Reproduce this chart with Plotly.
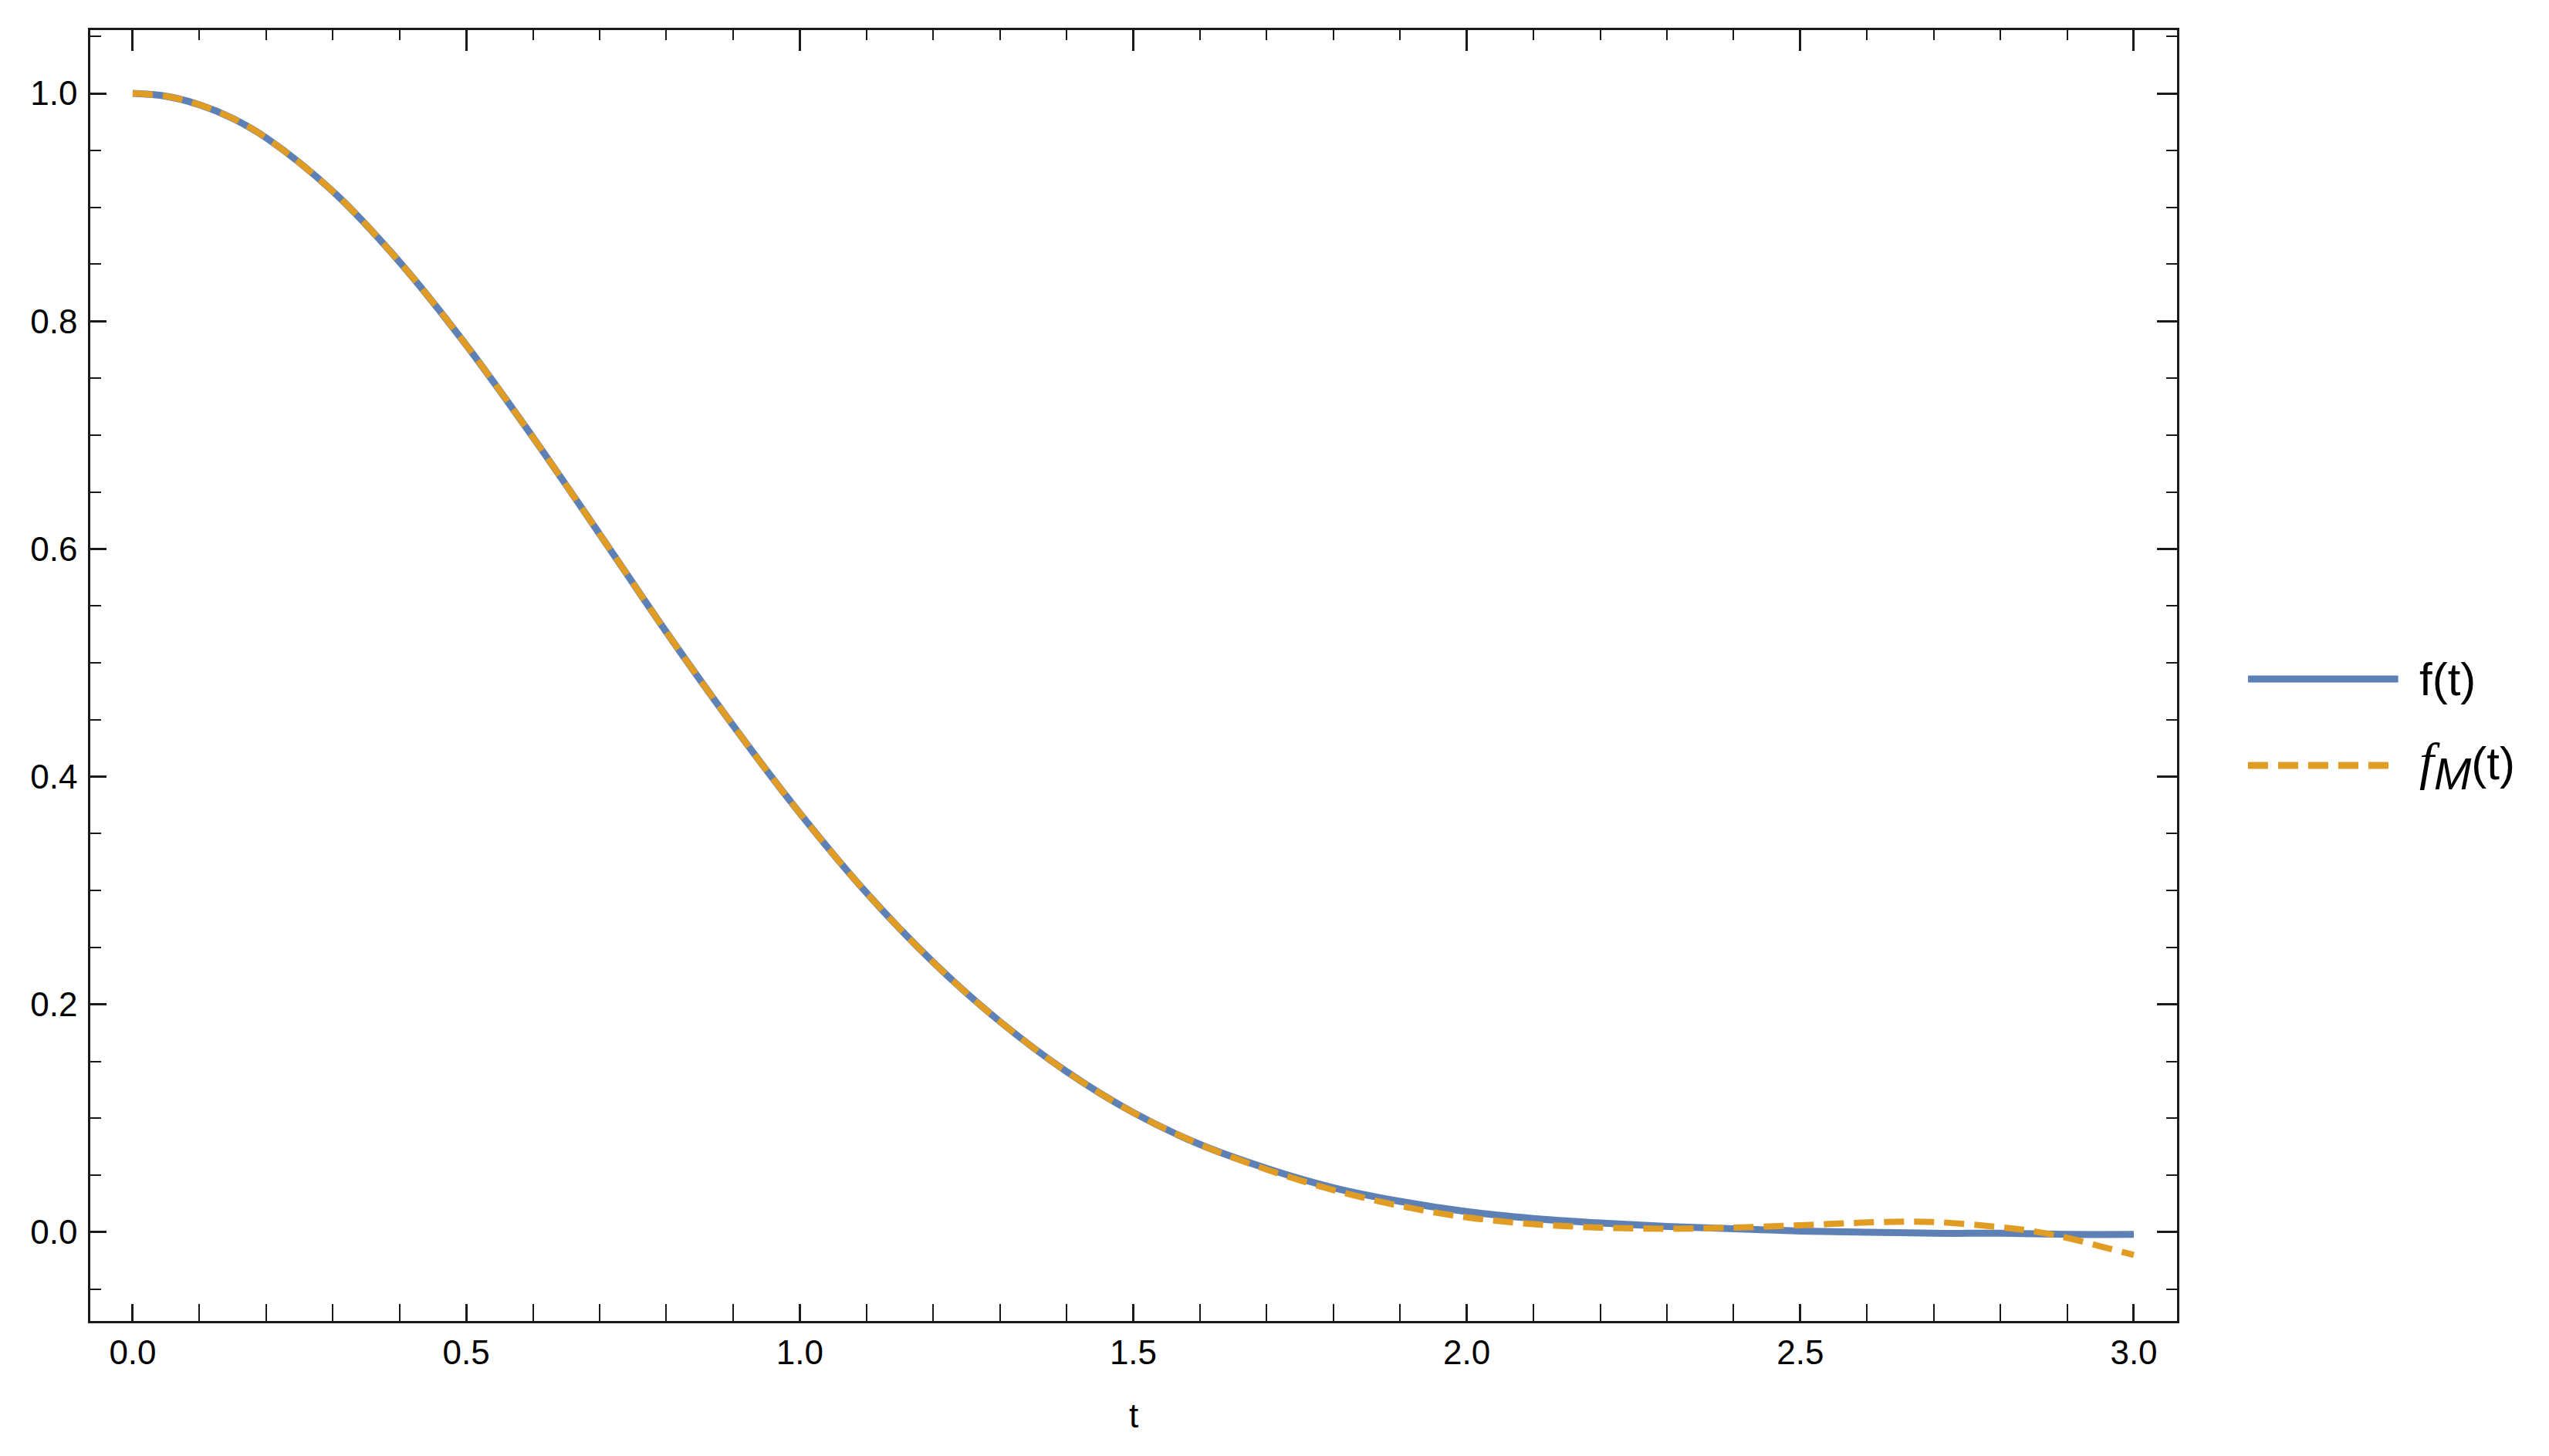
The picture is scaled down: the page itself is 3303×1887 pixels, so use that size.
import plotly.graph_objects as go

# ---- data ----
t_vals = [0.0, 0.05, 0.1, 0.15, 0.2, 0.3, 0.4, 0.5, 0.6, 0.7, 0.8, 0.9, 1.0,
          1.1, 1.2, 1.3, 1.4, 1.5, 1.6, 1.7, 1.8, 1.9, 2.0,
          2.1, 2.2, 2.3, 2.4, 2.5, 2.6, 2.7, 2.8, 2.9, 3.0]

f_vals = [1.000, 0.9975, 0.990, 0.978, 0.961, 0.914, 0.852, 0.779, 0.698, 0.613, 0.527, 0.445, 0.368,
          0.298, 0.237, 0.185, 0.141, 0.105, 0.077, 0.056, 0.039, 0.027, 0.018,
          0.012, 0.008, 0.005, 0.003, 0.001, 0.000, -0.001, -0.001, -0.002, -0.002]

tM_vals = [0.0, 0.05, 0.1, 0.15, 0.2, 0.3, 0.4, 0.5, 0.6, 0.7, 0.8, 0.9, 1.0,
           1.1, 1.2, 1.3, 1.4, 1.5, 1.6, 1.7, 1.8, 1.9, 2.0,
           2.1, 2.2, 2.3, 2.4, 2.5, 2.6, 2.7, 2.8, 2.85, 2.9, 2.95, 3.0]

fM_vals = [1.000, 0.9975, 0.990, 0.978, 0.961, 0.914, 0.852, 0.779, 0.698, 0.613, 0.527, 0.445, 0.368,
           0.298, 0.237, 0.185, 0.141, 0.105, 0.077, 0.055, 0.037, 0.023, 0.013,
           0.007, 0.004, 0.003, 0.004, 0.006, 0.0085, 0.0089, 0.0043, 0.0007, -0.0050, -0.0125, -0.0200]

x_major_ticks = [0.0, 0.5, 1.0, 1.5, 2.0, 2.5, 3.0]
x_tick_labels = ["0.0", "0.5", "1.0", "1.5", "2.0", "2.5", "3.0"]
y_major_ticks = [0.0, 0.2, 0.4, 0.6, 0.8, 1.0]
y_tick_labels = ["0.0", "0.2", "0.4", "0.6", "0.8", "1.0"]

series_names = ["f(t)",
                "<span style='font-family:Liberation Serif;font-size:68px'><i>f</i></span>"
                "<sub><span style='font-size:58px'><i>M</i></span></sub>(t)"]

BLUE = "#5E81B5"
ORANGE = "#E19C24"
FONT = "Liberation Sans"

X_RANGE = [-0.0636, 3.0648]
Y_RANGE = [-0.078, 1.0556]

fig = go.Figure()
fig.add_trace(go.Scatter(x=t_vals, y=f_vals, mode="lines",
                         line=dict(color=BLUE, width=9, shape="spline", smoothing=1.0),
                         showlegend=False, hoverinfo="skip"))
fig.add_trace(go.Scatter(x=tM_vals, y=fM_vals, mode="lines",
                         line=dict(color=ORANGE, width=8, dash="26px,13px", shape="spline", smoothing=1.0),
                         showlegend=False, hoverinfo="skip"))
# dummy trace to create the overlay (top/right tick) axes
fig.add_trace(go.Scatter(x=[None], y=[None], xaxis="x2", yaxis="y2",
                         showlegend=False, hoverinfo="skip"))

tickfont = dict(family=FONT, size=44, color="black")
AX = "#1a1a1a"

fig.update_layout(
    width=3295, height=1879,
    margin=dict(l=109, r=482, t=31, b=175),
    paper_bgcolor="white", plot_bgcolor="white",
    showlegend=False,
    xaxis=dict(range=X_RANGE, showgrid=False, zeroline=False,
               showline=True, linecolor=AX, linewidth=2.5, mirror=True,
               ticks="inside", ticklen=22, tickwidth=2.5, tickcolor=AX,
               tickvals=x_major_ticks, ticktext=x_tick_labels,
               tickfont=tickfont, ticklabelstandoff=0,
               minor=dict(dtick=0.1, tick0=0, ticks="inside", ticklen=22, tickwidth=2, tickcolor=AX, showgrid=False),
               title=dict(text="t", font=dict(family=FONT, size=44, color="black"), standoff=44)),
    yaxis=dict(range=Y_RANGE, showgrid=False, zeroline=False,
               showline=True, linecolor=AX, linewidth=2.5, mirror=True,
               ticks="inside", ticklen=21, tickwidth=2.5, tickcolor=AX,
               tickvals=y_major_ticks, ticktext=y_tick_labels,
               tickfont=tickfont, ticklabelstandoff=5,
               minor=dict(dtick=0.05, tick0=0, ticks="inside", ticklen=14, tickwidth=2, tickcolor=AX, showgrid=False)),
    xaxis2=dict(range=X_RANGE, overlaying="x", side="top", anchor="y2",
                showgrid=False, zeroline=False, showline=False, showticklabels=False,
                ticks="inside", ticklen=27, tickwidth=2.5, tickcolor=AX,
                tickvals=x_major_ticks,
                minor=dict(dtick=0.1, tick0=0, ticks="inside", ticklen=13, tickwidth=2, tickcolor=AX, showgrid=False)),
    yaxis2=dict(range=Y_RANGE, overlaying="y", side="right", anchor="x2",
                showgrid=False, zeroline=False, showline=False, showticklabels=False,
                ticks="inside", ticklen=26, tickwidth=2.5, tickcolor=AX,
                tickvals=y_major_ticks,
                minor=dict(dtick=0.05, tick0=0, ticks="inside", ticklen=14, tickwidth=2, tickcolor=AX, showgrid=False)),
)

# ---- manual legend (long line samples as in the reference) ----
legend_y = [0.4973, 0.4304]
legend_colors = [BLUE, ORANGE]
legend_dash = ["solid", "26px,13px"]
for yy, col, dsh, name in zip(legend_y, legend_colors, legend_dash, series_names):
    fig.add_shape(type="line", xref="paper", yref="paper",
                  x0=1.034, x1=1.106, y0=yy, y1=yy,
                  line=dict(color=col, width=9, dash=dsh))
    fig.add_annotation(xref="paper", yref="paper", x=1.1155, y=yy,
                       xanchor="left", yanchor="middle", showarrow=False,
                       text=name, font=dict(family=FONT, size=60, color="black"))

fig.write_html("out.html")
